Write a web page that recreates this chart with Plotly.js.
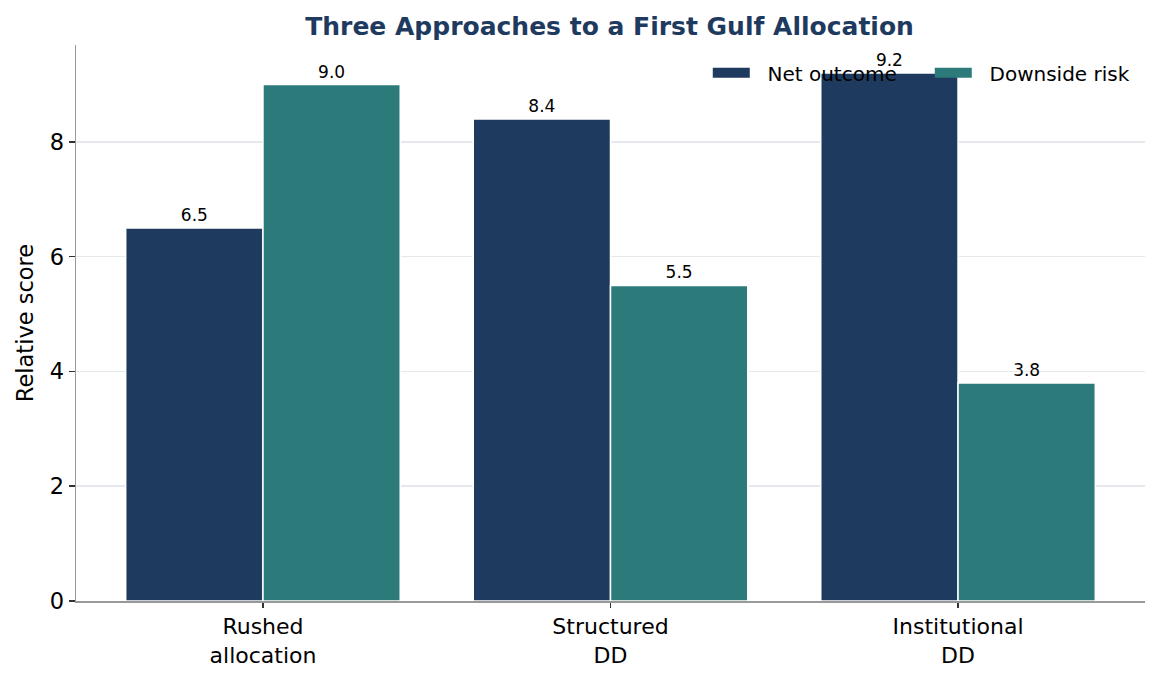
<!DOCTYPE html>
<html>
<head>
<meta charset="utf-8">
<script src="https://cdn.plot.ly/plotly-3.0.1.min.js"></script>
<style>
  html, body { margin: 0; padding: 0; background: #fff; }
  #chart { width: 1160px; height: 680px; }
</style>
</head>
<body>
<div id="chart"></div>
<script>
// ─── data ───────────────────────────────────────────────
var categories = ['Rushed<br>allocation', 'Structured<br>DD', 'Institutional<br>DD'];
var seriesNames = ['Net outcome', 'Downside risk'];
var netOutcome = [6.5, 8.4, 9.2];
var downsideRisk = [9.0, 5.5, 3.8];

var NAVY = '#1f3a5f';
var TEAL = '#2d7a7b';
var FONT = 'DejaVu Sans, sans-serif';

function barTrace(name, values, color) {
  return {
    type: 'bar', name: name,
    x: categories, y: values,
    text: values.map(function (v) { return v.toFixed(1); }),
    textposition: 'outside',
    cliponaxis: false,
    textfont: { size: 17, color: '#000', family: FONT },
    marker: { color: color, line: { color: '#fff', width: 1.5 } },
    hoverinfo: 'x+y',
    showlegend: false
  };
}

// legend-only entries, drawn as wide swatches like the reference
function legendTrace(name, color) {
  return {
    type: 'scatter', mode: 'lines', name: '\u00a0\u00a0' + name,
    x: [null], y: [null],
    line: { color: color, width: 13 },
    hoverinfo: 'skip'
  };
}

var traces = [
  barTrace(seriesNames[0], netOutcome, NAVY),
  barTrace(seriesNames[1], downsideRisk, TEAL),
  legendTrace(seriesNames[0], NAVY),
  legendTrace(seriesNames[1], TEAL)
];

var layout = {
  width: 1160, height: 680,
  margin: { l: 76, r: 15, t: 45, b: 79, autoexpand: false },
  paper_bgcolor: '#fff', plot_bgcolor: '#fff',
  font: { family: FONT, color: '#000', size: 22 },
  title: {
    text: '<b>Three Approaches to a First Gulf Allocation</b>',
    font: { size: 25, color: NAVY, family: FONT },
    x: 0.5255, xanchor: 'center', y: 0.962, yanchor: 'middle'
  },
  barmode: 'group', bargap: 0.21, bargroupgap: 0,
  xaxis: {
    range: [-0.538, 2.538],
    showline: true, linecolor: '#999', linewidth: 1.5,
    ticks: 'outside', ticklen: 5, tickcolor: '#333', tickwidth: 1.5,
    tickfont: { size: 22 }, showgrid: false, zeroline: false
  },
  yaxis: {
    range: [0, 9.69],
    title: { text: 'Relative score', font: { size: 22.5 }, standoff: 10 },
    showline: true, linecolor: '#999', linewidth: 1.5,
    ticks: 'outside', ticklen: 6, tickcolor: '#333', tickwidth: 1.5,
    tickvals: [0, 2, 4, 6, 8], tickfont: { size: 22.5 },
    showgrid: true, gridcolor: '#e6e8ee', gridwidth: 1.5, zeroline: false
  },
  legend: {
    orientation: 'h', x: 0.591, xanchor: 'left', y: 0.985, yanchor: 'top',
    bgcolor: 'rgba(0,0,0,0)', font: { size: 20 }, traceorder: 'normal',
    itemwidth: 37, entrywidth: 170, entrywidthmode: 'pixels'
  },
  showlegend: true
};

Plotly.newPlot('chart', traces, layout, { displayModeBar: false, staticPlot: true });
</script>
</body>
</html>
